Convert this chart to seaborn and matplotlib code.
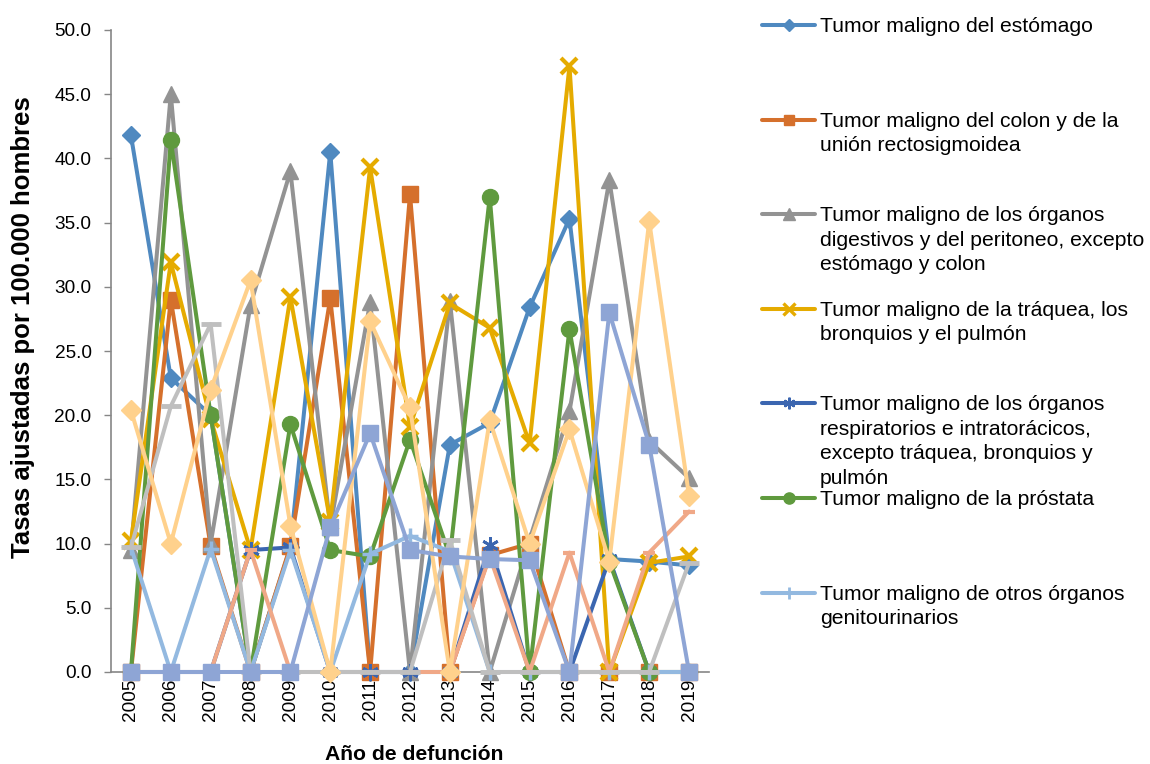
import numpy as np
import pandas as pd
import matplotlib
matplotlib.use("Agg")
import matplotlib.pyplot as plt
from matplotlib.lines import Line2D
import seaborn as sns

years = [2005, 2006, 2007, 2008, 2009, 2010, 2011, 2012, 2013, 2014, 2015, 2016, 2017, 2018, 2019]

estomago = [41.8, 22.9, 20.0, 0.0, 9.7, 40.5, 0.0, 0.0, 17.7, 19.4, 28.4, 35.3, 8.8, 8.6, 8.3]
colon = [0.0, 29.0, 9.8, 0.0, 9.8, 29.1, 0.0, 37.2, 0.0, 9.1, 10.0, 0.0, 0.0, 0.0, 0.0]
digestivos = [9.5, 45.0, 10.0, 28.6, 39.0, 11.3, 28.8, 0.0, 28.9, 0.0, 10.3, 20.3, 38.3, 18.0, 15.1]
traquea = [10.2, 31.9, 19.7, 9.5, 29.2, 11.7, 39.3, 19.1, 28.7, 26.8, 17.8, 47.2, 0.0, 8.5, 9.0]
respiratorios = [0.0, 0.0, 0.0, 9.5, 9.7, 0.0, 0.0, 0.0, 0.0, 9.9, 0.0, 0.0, 8.8, 0.0, 0.0]
prostata = [0.0, 41.4, 20.0, 0.0, 19.3, 9.5, 9.0, 18.1, 9.0, 37.0, 0.0, 26.7, 8.6, 0.0, 0.0]
otros_genito = [9.7, 0.0, 9.6, 0.0, 9.5, 0.0, 9.2, 10.6, 9.4, 0.0, 0.0, 0.0, 0.0, 0.0, 0.0]
serie_8 = [0.0, 0.0, 0.0, 9.5, 0.0, 0.0, 0.0, 0.0, 0.0, 9.0, 0.0, 9.3, 0.0, 9.3, 12.5]
serie_9 = [9.7, 20.7, 27.1, 0.0, 0.0, 0.0, 0.0, 0.0, 10.3, 0.0, 0.0, 0.0, 0.0, 0.0, 8.5]
serie_10 = [20.4, 10.0, 22.0, 30.5, 11.4, 0.0, 27.3, 20.6, 0.0, 19.6, 10.0, 18.9, 8.6, 35.1, 13.7]
serie_11 = [0.0, 0.0, 0.0, 0.0, 0.0, 11.3, 18.6, 9.5, 9.0, 8.8, 8.7, 0.0, 28.0, 17.7, 0.0]

series_names = [
    "Tumor maligno del estómago",
    "Tumor maligno del colon y de la\nunión rectosigmoidea",
    "Tumor maligno de los órganos\ndigestivos y del peritoneo, excepto\nestómago y colon",
    "Tumor maligno de la tráquea, los\nbronquios y el pulmón",
    "Tumor maligno de los órganos\nrespiratorios e intratorácicos,\nexcepto tráquea, bronquios y\npulmón",
    "Tumor maligno de la próstata",
    "Tumor maligno de otros órganos\ngenitourinarios",
    "Serie 8",
    "Serie 9",
    "Serie 10",
    "Serie 11",
]
series_values = [estomago, colon, digestivos, traquea, respiratorios, prostata,
                 otros_genito, serie_8, serie_9, serie_10, serie_11]
n_legend = 7

colors = ["#4F89C0", "#D5702C", "#939393", "#E5AB00", "#3B66B0", "#5F9A3E",
          "#93B9E0", "#F0A887", "#BFBFBF", "#FFD18C", "#8EA5D5"]
markers = ["D", "s", "^", "x", (6, 2, 0), "o", "+", "_", "_", "D", "s"]
msizes = [9, 11, 12, 12, 12, 11.5, 12, 9, 14, 10, 12]
mews = [1, 1, 1, 3, 2, 1, 2.5, 3, 3.5, 1, 1]

rows = []
for name, vals in zip(series_names, series_values):
    for i, v in enumerate(vals):
        rows.append({"serie": name, "pos": i, "valor": v})
df = pd.DataFrame(rows)

sns.set_theme(style="white")
plt.rcParams["font.family"] = ["Liberation Sans", "DejaVu Sans"]
plt.rcParams["text.color"] = "black"
plt.rcParams["xtick.labelcolor"] = "black"
plt.rcParams["ytick.labelcolor"] = "black"

fig = plt.figure(figsize=(11.5, 7.64), dpi=100)
W, H = 1150, 764
ax = fig.add_axes([111 / W, 1 - 672 / H, (709 - 111) / W, (672 - 30) / H])

for k, name in enumerate(series_names):
    sub = df[df["serie"] == name]
    sns.lineplot(data=sub, x="pos", y="valor", ax=ax, color=colors[k],
                 marker=markers[k], markersize=msizes[k], linewidth=2.9,
                 markeredgecolor=colors[k], markerfacecolor=colors[k],
                 markeredgewidth=mews[k], legend=False, clip_on=False,
                 zorder=3 + k)

ax.set_xlim(-0.5, 14.5)
ax.set_ylim(0, 50)
ax.set_yticks(np.arange(0, 50.1, 5))
ax.set_yticklabels([f"{v:.1f}" for v in np.arange(0, 50.1, 5)], fontsize=13.7)
ax.set_xticks(range(len(years)))
ax.set_xticklabels([str(y) for y in years], rotation=90, fontsize=13.7)
ax.set_xticks(np.arange(-0.5, 14.6, 1), minor=True)
ax.tick_params(axis="x", which="major", length=0, pad=5)
ax.tick_params(axis="x", which="minor", length=6, direction="out", color="#868686", width=1)
ax.tick_params(axis="y", which="major", length=5, direction="out", color="#868686",
               width=1, left=True, pad=9)
for s in ["top", "right"]:
    ax.spines[s].set_visible(False)
for s in ["left", "bottom"]:
    ax.spines[s].set_color("#868686")
    ax.spines[s].set_linewidth(1.2)
ax.grid(False)
ax.set_xlabel("")
ax.set_ylabel("")

fig.text(23 / W, 1 - 327 / H, "Tasas ajustadas por 100.000 hombres", rotation=90,
         ha="center", va="center", fontsize=18.5, fontweight="bold")
fig.text(414 / W, 1 - 755 / H, "Año de defunción", ha="center", va="center",
         fontsize=15.2, fontweight="bold")

# legend (first 7 series)
for k in range(n_legend):
    yc = 25 + 94.6 * k
    yf = 1 - yc / H
    fig.add_artist(Line2D([762 / W, 815 / W], [yf, yf], color=colors[k], lw=2.9,
                          transform=fig.transFigure))
    fig.add_artist(Line2D([788.5 / W], [yf], color=colors[k], marker=markers[k],
                          markersize=msizes[k] * 0.7, markeredgewidth=max(1, mews[k] * 0.8),
                          markeredgecolor=colors[k], markerfacecolor=colors[k],
                          transform=fig.transFigure))
    fig.text(820 / W, 1 - (yc - 8) / H, series_names[k], ha="left", va="top",
             fontsize=15.2, linespacing=1.36)

fig.savefig("out.png", dpi=100)
